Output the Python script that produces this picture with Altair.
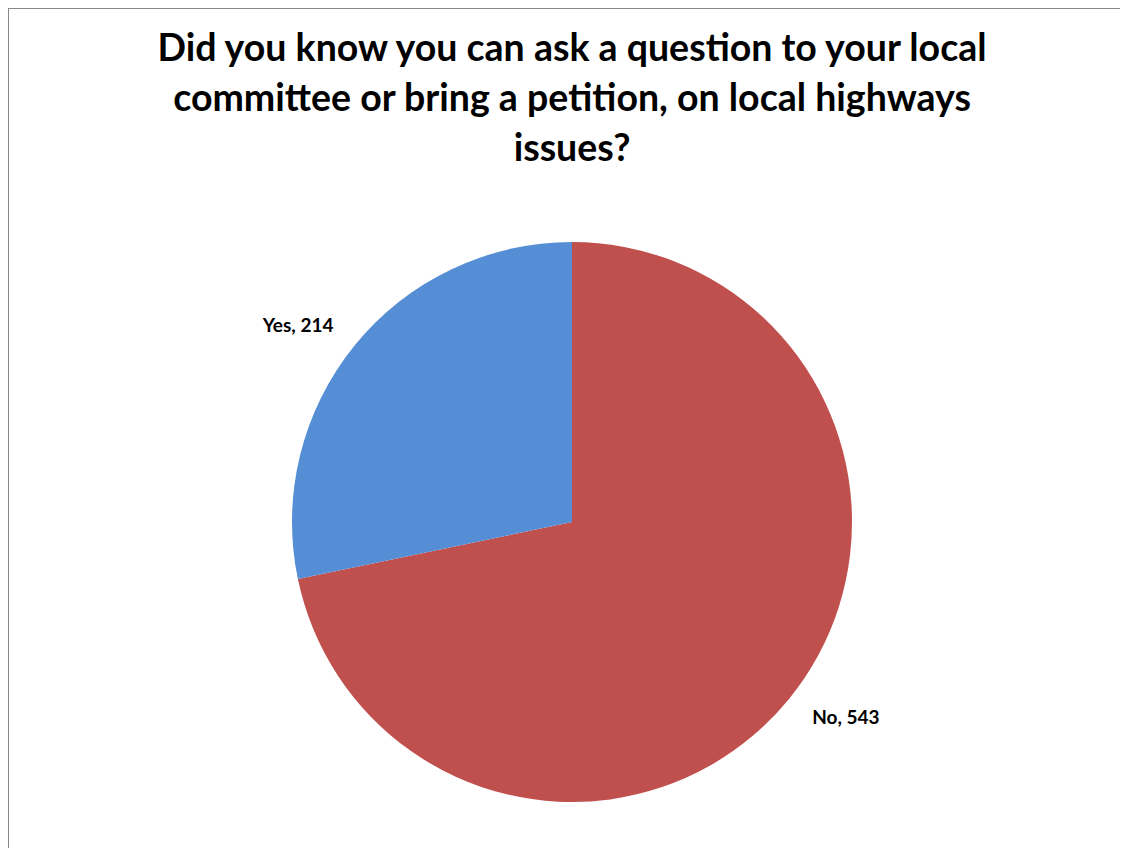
import altair as alt
import pandas as pd

categories = ["No", "Yes"]
values = [543, 214]
colors = ["#C0504D", "#558ED5"]
title_lines = [
    "Did you know you can ask a question to your local",
    "committee or bring a petition, on local highways",
    "issues?",
]

df = pd.DataFrame({"answer": categories, "count": values, "order": [0, 1]})
df["label"] = df["answer"] + ", " + df["count"].astype(str)

CX, CY = 564, 514

base = alt.Chart(df).encode(
    theta=alt.Theta("count:Q", stack=True),
    order=alt.Order("order:Q"),
)

pie = base.mark_arc(outerRadius=280).encode(
    color=alt.Color("answer:N", scale=alt.Scale(domain=categories, range=colors), legend=None),
    x=alt.value(CX),
    y=alt.value(CY),
)

labels = base.mark_text(
    radius=337, thetaOffset=-0.061, font="Lato", fontWeight="bold", fontSize=19, color="black"
).encode(text="label:N", x=alt.value(CX), y=alt.value(CY))

title_df = pd.DataFrame({"text": ["\n".join(title_lines)]})
title = alt.Chart(title_df).mark_text(
    font="Lato", fontWeight="bold", fontSize=37.5, color="black",
    lineBreak="\n", lineHeight=50, baseline="middle", align="center"
).encode(text="text:N", x=alt.value(CX), y=alt.value(42))

border_df = pd.DataFrame({"k": [0]})
left_rule = alt.Chart(border_df).mark_rule(color="#888888", strokeWidth=2).encode(
    x=alt.value(0), y=alt.value(0), y2=alt.value(860)
)
top_rule = alt.Chart(border_df).mark_rule(color="#888888", strokeWidth=2).encode(
    x=alt.value(0), x2=alt.value(1130), y=alt.value(0)
)

chart = alt.layer(left_rule, top_rule, pie, labels, title).properties(
    width=1112, height=840,
    autosize=alt.AutoSizeParams(type="none"),
    padding=0,
).configure_view(stroke=None)

chart.save("out.html", embed_options={"renderer": "svg", "actions": False})
